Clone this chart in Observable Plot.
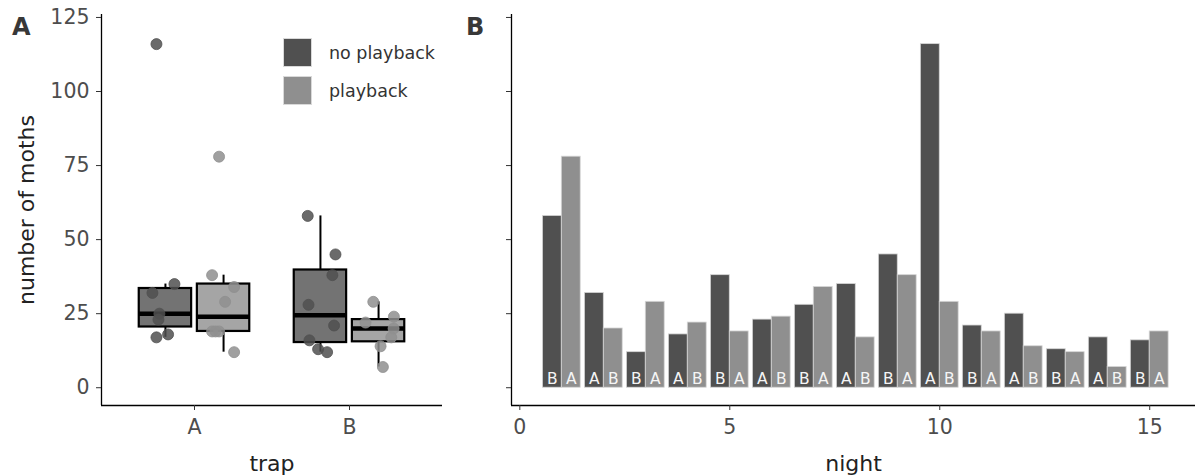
<!DOCTYPE html>
<html>
<head>
<meta charset="utf-8">
<script src="https://cdn.jsdelivr.net/npm/d3@7"></script>
<script src="https://cdn.jsdelivr.net/npm/@observablehq/plot@0.6"></script>
<style>
  body { margin: 0; background: #fff; font-family: "DejaVu Sans", sans-serif; }
  #wrap { position: relative; width: 1195px; height: 476px; overflow: hidden; background: #fff; }
  #panelA { position: absolute; left: 0; top: 0; }
  #panelB { position: absolute; left: 455px; top: 0; }
  .tag { position: absolute; font-weight: bold; font-size: 24px; color: #383838; line-height: 1; }
  #legend { position: absolute; left: 283px; top: 38px; }
  .li { display: flex; align-items: center; height: 29px; margin-bottom: 9px; font-size: 17.5px; color: #333; }
  .key { width: 29px; height: 29px; box-sizing: border-box; border: 1px solid #d9d9d9; margin-right: 17px; }
  svg text { font-family: "DejaVu Sans", sans-serif; }
</style>
</head>
<body>
<div id="wrap">
  <div id="panelA"></div>
  <div id="panelB"></div>
  <div class="tag" id="tagA" style="left:12px; top:15px;">A</div>
  <div class="tag" id="tagB" style="left:466px; top:15px;">B</div>
  <div id="legend"></div>
</div>
<script>
// ---------------- data ----------------
const nights = [1, 2, 3, 4, 5, 6, 7, 8, 9, 10, 11, 12, 13, 14, 15];
const noPlayback = [58, 32, 12, 18, 38, 23, 28, 35, 45, 116, 21, 25, 13, 17, 16];
const playback   = [78, 20, 29, 22, 19, 24, 34, 17, 38, 29, 19, 14, 12, 7, 19];
const trapNoPlayback = ["B", "A", "B", "A", "B", "A", "B", "A", "B", "A", "B", "A", "B", "A", "B"];
const trapPlayback   = ["A", "B", "A", "B", "A", "B", "A", "B", "A", "B", "A", "B", "A", "B", "A"];
// horizontal jitter of the points in panel A (category units)
const jitterNoPlayback = [-0.082, -0.084, 0.043, 0.017, 0.077, -0.045, -0.077, 0.058, 0.097, -0.058, 0.088, -0.039, -0.015, -0.058, -0.071];
const jitterPlayback   = [-0.029, 0.097, 0.010, -0.084, -0.074, 0.099, 0.068, 0.082, -0.074, -0.034, -0.029, 0.013, 0.068, 0.028, -0.052];
const traps = ["A", "B"];
const treatments = ["no playback", "playback"];
const colors = ["#505050", "#8f8f8f"];
const yTicks = [0, 25, 50, 75, 100, 125];
const nightTicks = [0, 5, 10, 15];

// ---------------- derived tables ----------------
const obs = [];
nights.forEach((n, i) => {
  obs.push({night: n, treatment: treatments[0], trap: trapNoPlayback[i], value: noPlayback[i], jitter: jitterNoPlayback[i]});
  obs.push({night: n, treatment: treatments[1], trap: trapPlayback[i], value: playback[i], jitter: jitterPlayback[i]});
});
const dodge = 0.1875, halfBox = 0.169, halfBar = 0.45;
const center = d => (traps.indexOf(d.trap) + 1) + (d.treatment === treatments[0] ? -dodge : dodge);

const boxes = [];
for (const t of traps) for (const tr of treatments) {
  const v = obs.filter(d => d.trap === t && d.treatment === tr).map(d => d.value).sort(d3.ascending);
  const q1 = d3.quantile(v, 0.25), med = d3.quantile(v, 0.5), q3 = d3.quantile(v, 0.75);
  const iqr = q3 - q1;
  const lo = d3.min(v.filter(x => x >= q1 - 1.5 * iqr));
  const hi = d3.max(v.filter(x => x <= q3 + 1.5 * iqr));
  boxes.push({trap: t, treatment: tr, q1, med, q3, lo, hi, cx: center({trap: t, treatment: tr})});
}

const yDomain = [-6, 126];
const font = "DejaVu Sans";
const tickFont = 20.5;
const common = {
  height: 476, marginTop: 14, marginBottom: 71,
  y: {domain: yDomain},
  color: {domain: treatments, range: colors},
  style: {fontFamily: font, fontSize: "20.5px", background: "white", overflow: "visible"}
};

// ---------------- panel A ----------------
const xA = [0.4, 2.6];
const plotA = Plot.plot({
  ...common,
  width: 455, marginLeft: 101, marginRight: 13,
  x: {domain: xA},
  marks: [
    Plot.ruleX(boxes, {x: "cx", y1: "q3", y2: "hi", stroke: "black", strokeWidth: 2}),
    Plot.ruleX(boxes, {x: "cx", y1: "lo", y2: "q1", stroke: "black", strokeWidth: 2}),
    Plot.rect(boxes, {x1: d => d.cx - halfBox, x2: d => d.cx + halfBox, y1: "q1", y2: "q3",
      fill: "treatment", fillOpacity: 0.8, stroke: "black", strokeWidth: 2.2}),
    Plot.ruleY(boxes, {x1: d => d.cx - halfBox, x2: d => d.cx + halfBox, y: "med", stroke: "black", strokeWidth: 4.5}),
    Plot.dot(obs, {x: d => center(d) + d.jitter, y: "value", r: 5.5, fill: "treatment", fillOpacity: 0.85,
      stroke: "treatment", strokeWidth: 0.8}),
    Plot.ruleX([xA[0]], {stroke: "black", strokeWidth: 1.3}),
    Plot.ruleY([yDomain[0]], {stroke: "black", strokeWidth: 1.3}),
    Plot.axisY({ticks: yTicks, tickSize: 5, tickPadding: 7, fill: "#4d4d4d", stroke: "#333", fontSize: tickFont, label: null}),
    Plot.axisX({ticks: [1, 2], tickFormat: d => traps[d - 1], tickSize: 5, tickPadding: 9, fill: "#4d4d4d", stroke: "#333", fontSize: tickFont, label: null}),
    Plot.text(["number of moths"], {frameAnchor: "left", textAnchor: "middle", rotate: -90, dx: -83, lineAnchor: "top", fontSize: 22, fill: "#222"}),
    Plot.text(["trap"], {frameAnchor: "bottom", dy: 65, lineAnchor: "bottom", fontSize: 22, fill: "#222"})
  ]
});
document.getElementById("panelA").appendChild(plotA);

// ---------------- panel B ----------------
const xB = [-0.198, 16.09];
const barX1 = d => d.treatment === treatments[0] ? d.night - halfBar : d.night;
const barX2 = d => d.treatment === treatments[0] ? d.night : d.night + halfBar;
const plotB = Plot.plot({
  ...common,
  width: 740, marginLeft: 56, marginRight: 0,
  x: {domain: xB},
  marks: [
    Plot.rectY(obs, {x1: barX1, x2: barX2, y: "value", fill: "treatment", stroke: "#d6d6d6", strokeWidth: 0.8}),
    Plot.text(obs, {x: d => (barX1(d) + barX2(d)) / 2, y: 0, text: "trap", fill: "#f5f5f5", fontSize: 15.5,
      lineAnchor: "bottom", dy: -3.5}),
    Plot.ruleX([xB[0]], {stroke: "black", strokeWidth: 1.3}),
    Plot.ruleY([yDomain[0]], {stroke: "black", strokeWidth: 1.3}),
    Plot.axisY({ticks: yTicks, tickSize: 5, tickFormat: () => "", stroke: "#333", label: null}),
    Plot.axisX({ticks: nightTicks, tickSize: 5, tickPadding: 9, fill: "#4d4d4d", stroke: "#333", fontSize: tickFont, label: null}),
    Plot.text(["night"], {frameAnchor: "bottom", dy: 65, lineAnchor: "bottom", fontSize: 22, fill: "#222"})
  ]
});
document.getElementById("panelB").appendChild(plotB);

// ---------------- legend ----------------
const legend = document.getElementById("legend");
treatments.forEach((t, i) => {
  const row = document.createElement("div");
  row.className = "li";
  const key = document.createElement("div");
  key.className = "key";
  key.style.background = colors[i];
  const label = document.createElement("span");
  label.textContent = t;
  row.appendChild(key);
  row.appendChild(label);
  legend.appendChild(row);
});
</script>
</body>
</html>
